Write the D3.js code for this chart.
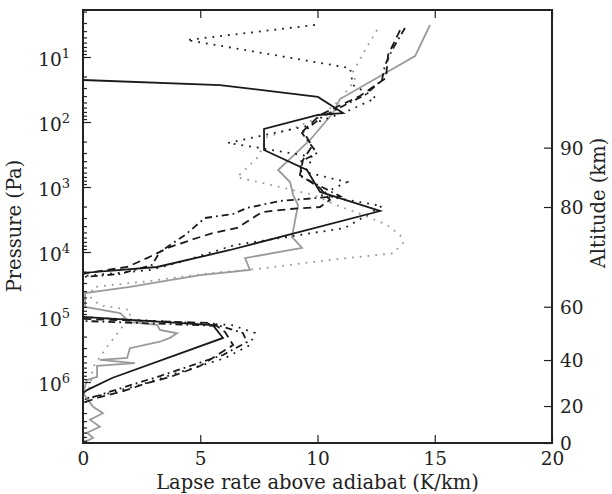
<!DOCTYPE html>
<html>
<head>
<meta charset="utf-8">
<script src="https://cdn.jsdelivr.net/npm/d3@7"></script>
<style>
  body { margin: 0; background: #fff; }
  svg { display: block; }
  text { font-family: "DejaVu Serif", serif; fill: #222; }
</style>
</head>
<body>
<svg id="chart" width="612" height="494"></svg>
<script>
// Axis ticks
const xTicks = [0, 5, 10, 15, 20];
const pressureExponents = [1, 2, 3, 4, 5, 6];
const altitudeTicks = [0, 20, 40, 60, 80, 90];          // km
const altitudePressure = [8.67e6, 2.34e6, 4.59e5, 6.95e4, 2.03e3, 248]; // Pa at each altitude tick

// Profiles: lapse rate above adiabat (K/km) against pressure (Pa)
const solidBlackLapse = [0, 5.84, 10.02, 11.09, 10.02, 7.72, 7.72, 9.55, 10.11, 12.67, 6.27, 3.16, 0, 0, 5.54, 5.97, 1.24, 0.17, 0, 0];
const solidBlackPressure = [22.6, 27.0, 41.2, 72.8, 78.0, 128, 270, 547, 1190, 2340, 9310, 17000, 21000, 1.0e5, 1.33e5, 2.10e5, 8.67e5, 1.33e6, 1.48e6, 8.67e6];

const solidGrayLapse = [14.80, 14.16, 10.96, 10.66, 9.68, 8.32, 8.83, 8.96, 9.17, 8.91, 9.34, 6.91, 7.12, 4.99, 2.00, 0.09, 0.09, 1.58, 2.00, 3.16, 3.28, 4.01, 3.71, 3.28, 2.00, 1.88, 0.72, 2.22, 0.60, 0.60, 0.17, 0, 0.43, 0.85, 0.30, 0.72, 0.17, 0.43, 0.09];
const solidGrayPressure = [3.22, 9.66, 44.3, 72.8, 189, 547, 838, 1330, 1890, 5870, 8670, 12400, 18900, 22600, 34500, 42700, 70100, 87100, 1.20e5, 1.32e5, 1.58e5, 1.78e5, 2.09e5, 2.40e5, 3.02e5, 4.27e5, 4.57e5, 5.13e5, 5.62e5, 8.32e5, 9.33e5, 1.48e6, 2.40e6, 3.02e6, 3.80e6, 4.90e6, 6.03e6, 7.24e6, 8.32e6];

const dottedGrayLapse = [12.54, 12.03, 11.51, 11.6, 10.96, 10.11, 9.04, 7.85, 7.46, 6.57, 8.40, 9.81, 10.83, 11.94, 12.96, 13.52, 13.65, 13.22, 10.53, 7.68, 5.54, 2.73, 0.43, 0.30, 0.72, 2.00, 2.00, 1.58, 1.02, 0.43, 0.30, 0, 0];
const dottedGrayPressure = [3.85, 7.80, 17.0, 22.6, 45.7, 83.2, 123, 170, 347, 708, 1000, 1320, 1910, 2690, 3800, 5500, 7240, 10500, 13200, 17800, 20900, 28200, 34700, 49000, 66100, 77600, 1.0e5, 1.58e5, 2.88e5, 5.89e5, 1.20e6, 1.58e6, 8.67e6];

const dottedBlackLapse = [9.89, 4.43, 11.39, 11.51, 12.49, 11.39, 9.55, 6.18, 7.55, 9.81, 9.47, 11.26, 10.11, 12.75, 11.17, 6.48, 4.14, 2.86, 0, 0, 6.35, 7.33, 7.12, 6.06, 4.14, 2.43, 1.15, 0.30, 0, 0];
const dottedBlackPressure = [3.22, 5.48, 14.8, 27.0, 42.7, 65.3, 115, 210, 251, 345, 588, 838, 1330, 1960, 4270, 7800, 14300, 18900, 23400, 1.0e5, 1.33e5, 1.76e5, 2.70e5, 4.27e5, 7.02e5, 1.11e6, 1.48e6, 1.76e6, 1.89e6, 8.67e6];

const dashedLapse = [13.52, 13.01, 12.92, 11.81, 10.11, 9.38, 9.77, 9.38, 9.25, 10.11, 10.53, 10.11, 8.83, 7.63, 6.57, 5.54, 4.86, 3.71, 2.73, 1.88, 0.17, 0, 0, 5.54, 6.06, 6.40, 4.99, 3.71, 2.73, 1.58, 0.72, 0.21, 0, 0];
const dashedPressure = [3.85, 9.31, 21.0, 39.8, 78.0, 138, 234, 384, 653, 1040, 1580, 2030, 2180, 2430, 4270, 5100, 6090, 8380, 12400, 17000, 21000, 21800, 1.07e5, 1.24e5, 1.70e5, 2.70e5, 5.67e5, 8.38e5, 1.04e6, 1.43e6, 1.70e6, 1.96e6, 2.10e6, 8.67e6];

const dashDotLapse = [13.73, 13.18, 12.88, 12.75, 12.03, 11.17, 10.19, 9.34, 9.98, 9.25, 9.34, 10.96, 8.40, 6.99, 6.40, 5.20, 4.35, 3.28, 2.94, 1.58, 0, 0, 5.84, 6.82, 6.99, 5.97, 4.56, 3.28, 2.30, 1.36, 0.60, 0, 0];
const dashDotPressure = [3.58, 7.80, 13.3, 22.6, 38.4, 54.8, 83.8, 148, 300, 412, 702, 1380, 1640, 2100, 2600, 3000, 5470, 10000, 15800, 21800, 24200, 1.15e5, 1.37e5, 1.76e5, 2.43e5, 3.84e5, 5.67e5, 8.09e5, 1.04e6, 1.33e6, 1.64e6, 1.83e6, 8.67e6];

const svg = d3.select("#chart");
const plotLeft = 83, plotRight = 552, plotTop = 10, plotBottom = 443;
const tickFont = 18.5, titleFont = 19.5;

const x = d3.scaleLinear().domain([0, 20]).range([plotLeft, plotRight]);
const y = d3.scaleLog().domain([1.892, 8.67e6]).range([plotTop, plotBottom]);
// altitude axis: piecewise mapping of the altitude ticks onto the pressure scale
const alt = d3.scaleLinear().domain(altitudeTicks).range(altitudePressure.map(p => y(p)));

const series = [
  { lapse: dottedGrayLapse, pressure: dottedGrayPressure, color: "#9a9a9a", dash: "1.8,6" },
  { lapse: solidGrayLapse, pressure: solidGrayPressure, color: "#9a9a9a", dash: null },
  { lapse: dottedBlackLapse, pressure: dottedBlackPressure, color: "#1a1a1a", dash: "1.8,6" },
  { lapse: dashedLapse, pressure: dashedPressure, color: "#1a1a1a", dash: "8,5" },
  { lapse: dashDotLapse, pressure: dashDotPressure, color: "#1a1a1a", dash: "7,4,1.8,4" },
  { lapse: solidBlackLapse, pressure: solidBlackPressure, color: "#1a1a1a", dash: null }
];

const line = d3.line().x(d => x(d[0])).y(d => y(d[1]));

svg.append("g").selectAll("path")
  .data(series)
  .join("path")
  .attr("d", s => line(s.lapse.map((v, i) => [v, s.pressure[i]])))
  .attr("fill", "none")
  .attr("stroke", s => s.color)
  .attr("stroke-width", 1.8)
  .attr("stroke-dasharray", s => s.dash);

// ticks (pointing inward)
const majorP = pressureExponents.map(e => Math.pow(10, e));
const minorP = [];
for (let e = 0; e <= 6; e++) for (let m = 2; m <= 9; m++) {
  const v = m * Math.pow(10, e);
  if (v >= y.domain()[0] && v <= y.domain()[1]) minorP.push(v);
}

const styleAxis = g => {
  g.select(".domain").remove();
  g.selectAll(".tick line").attr("stroke", "#222").attr("stroke-width", 1.2);
};

svg.append("g").attr("transform", `translate(${plotLeft},0)`)
  .call(d3.axisLeft(y).tickValues(majorP).tickSize(-8).tickFormat(""))
  .call(styleAxis);
svg.append("g").attr("transform", `translate(${plotLeft},0)`)
  .call(d3.axisLeft(y).tickValues(minorP).tickSize(-4).tickFormat(""))
  .call(styleAxis);

svg.append("g").attr("transform", `translate(0,${plotBottom})`)
  .call(d3.axisBottom(x).tickValues(xTicks).tickSize(-8).tickPadding(8).tickFormat(d3.format("d")))
  .call(styleAxis)
  .call(g => g.selectAll(".tick text").attr("font-size", tickFont).attr("dy", "0.75em"));

svg.append("g").attr("transform", `translate(0,${plotTop})`)
  .call(d3.axisTop(x).tickValues(xTicks).tickSize(-8).tickFormat(""))
  .call(styleAxis);

svg.append("g").attr("transform", `translate(${plotRight},0)`)
  .call(d3.axisRight(alt).tickValues(altitudeTicks).tickSize(-8).tickPadding(8).tickFormat(d3.format("d")))
  .call(styleAxis)
  .call(g => g.selectAll(".tick text").attr("font-size", tickFont).attr("dy", "0.35em"));

// pressure labels as powers of ten
const pl = svg.append("g").selectAll("text")
  .data(pressureExponents)
  .join("text")
  .attr("text-anchor", "end")
  .attr("x", 70)
  .attr("y", e => y(Math.pow(10, e)) + 9)
  .attr("font-size", tickFont);
pl.append("tspan").text("10");
pl.append("tspan").attr("font-size", 13).attr("dy", -8).text(e => e);

// frame
svg.append("rect")
  .attr("x", plotLeft).attr("y", plotTop)
  .attr("width", plotRight - plotLeft).attr("height", plotBottom - plotTop)
  .attr("fill", "none").attr("stroke", "#222").attr("stroke-width", 2);

// axis titles
svg.append("text")
  .attr("x", (plotLeft + plotRight) / 2).attr("y", 489)
  .attr("text-anchor", "middle").attr("font-size", titleFont)
  .text("Lapse rate above adiabat (K/km)");

svg.append("text")
  .attr("transform", "translate(21,226) rotate(-90)")
  .attr("text-anchor", "middle").attr("font-size", titleFont)
  .text("Pressure (Pa)");

svg.append("text")
  .attr("transform", "translate(605,203) rotate(-90)")
  .attr("text-anchor", "middle").attr("font-size", titleFont)
  .text("Altitude (km)");
</script>
</body>
</html>
